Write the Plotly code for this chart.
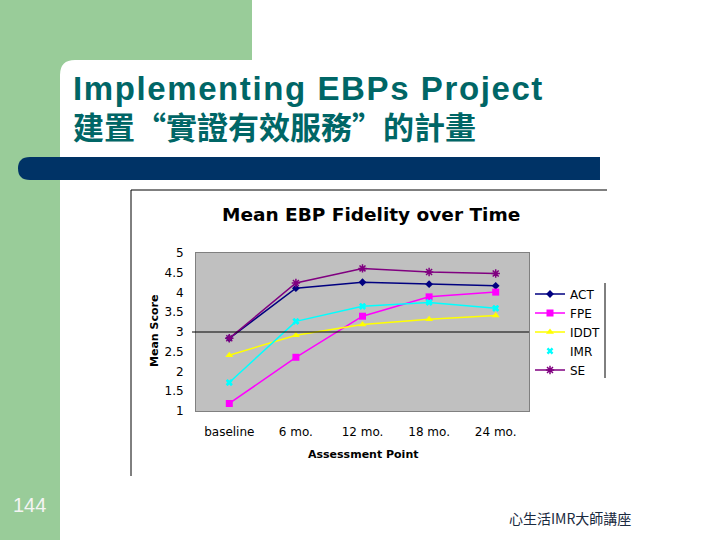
import plotly.graph_objects as go

categories = ["baseline", "6 mo.", "12 mo.", "18 mo.", "24 mo."]
act = [2.84, 4.11, 4.26, 4.21, 4.17]
fpe = [1.19, 2.36, 3.40, 3.89, 4.01]
iddt = [2.41, 2.92, 3.19, 3.32, 3.42]
imr = [1.72, 3.27, 3.65, 3.75, 3.60]
se = [2.84, 4.24, 4.61, 4.52, 4.48]
y_ticks = [1, 1.5, 2, 2.5, 3, 3.5, 4, 4.5, 5]
y_tick_labels = ["1", "1.5", "2", "2.5", "3", "3.5", "4", "4.5", "5"]

W, H = 720, 540


def px(x):
    return x / W


def py(y):
    return 1 - y / H


def path(cmds):
    out = []
    for c in cmds:
        if isinstance(c, str):
            out.append(c)
        else:
            out.append(f"{px(c[0]):.5f},{py(c[1]):.5f}")
    return " ".join(out)


CHART_FONT = "DejaVu Sans, Verdana, sans-serif"

fig = go.Figure()

series = [
    ("ACT", act, "#000080", "diamond", 6),
    ("FPE", fpe, "#FF00FF", "square", 7),
    ("IDDT", iddt, "#FFFF00", "triangle-up", 7),
    ("IMR", imr, "#00FFFF", "x", 6),
    ("SE", se, "#800080", "asterisk-open", 7),
]

for name, vals, color, sym, size in series:
    marker = dict(symbol=sym, size=size, color=color)
    if sym == "asterisk-open":
        marker["line"] = dict(color=color, width=1.5)
    else:
        marker["line"] = dict(width=0)
    if name == "IMR":
        fig.add_trace(go.Scatter(x=categories, y=vals, mode="lines+markers", name=name,
                                 line=dict(color=color, width=1.5), marker=marker,
                                 showlegend=False))
        fig.add_trace(go.Scatter(x=categories, y=vals, mode="markers", name=name,
                                 marker=marker, showlegend=True))
    else:
        fig.add_trace(go.Scatter(x=categories, y=vals, mode="lines+markers", name=name,
                                 line=dict(color=color, width=1.5), marker=marker))

shapes = [
    # green slide background
    dict(type="path", xref="paper", yref="paper", layer="below",
         path=path(["M", (0, 0), "L", (252, 0), "L", (252, 60), "L", (75, 60),
                    "Q", (60, 60), (60, 75), "L", (60, 540), "L", (0, 540), "Z"]),
         fillcolor="#99CC99", line=dict(width=0)),
    # blue bar
    dict(type="path", xref="paper", yref="paper", layer="below",
         path=path(["M", (30, 157), "L", (600, 157), "L", (600, 180), "L", (30, 180),
                    "Q", (18, 180), (18, 168.5), "Q", (18, 157), (30, 157), "Z"]),
         fillcolor="#003366", line=dict(width=0)),
    # chart frame lines
    dict(type="line", xref="paper", yref="paper", x0=px(131), x1=px(607), y0=py(190), y1=py(190),
         line=dict(color="black", width=1)),
    dict(type="line", xref="paper", yref="paper", x0=px(131), x1=px(131), y0=py(190), y1=py(476),
         line=dict(color="black", width=1)),
    dict(type="line", xref="paper", yref="paper", x0=px(605), x1=px(605), y0=py(283), y1=py(378),
         line=dict(color="black", width=1)),
    # category axis crossing at 3
    dict(type="line", xref="paper", yref="y", x0=px(192), x1=px(529), y0=3, y1=3,
         line=dict(color="black", width=1), layer="above"),
]

annotations = [
    dict(text='<span style="letter-spacing:1.6px"><b>Implementing EBPs Project</b></span>',
         x=px(71), y=py(88), xref="paper", yref="paper",
         xanchor="left", yanchor="middle", showarrow=False,
         font=dict(family="Liberation Sans, Arial, sans-serif", size=33, color="#006666")),
    dict(text="建置“實證有效服務”的計畫", x=px(71), y=py(125), xref="paper", yref="paper",
         xanchor="left", yanchor="middle", showarrow=False,
         font=dict(family="Noto Sans CJK TC, sans-serif", size=31, color="#006666", weight=700)),
    dict(text="144", x=px(29), y=py(505), xref="paper", yref="paper",
         xanchor="center", yanchor="middle", showarrow=False,
         font=dict(family="Liberation Sans, Arial, sans-serif", size=20, color="#F4F4F4")),
    dict(text="心生活IMR大師講座", x=px(570), y=py(518), xref="paper", yref="paper",
         xanchor="center", yanchor="middle", showarrow=False,
         font=dict(family="Noto Sans CJK TC, sans-serif", size=14, color="#1a2a40")),
    dict(text="<b>Mean EBP Fidelity over Time</b>", x=px(371), y=py(214), xref="paper", yref="paper",
         xanchor="center", yanchor="middle", showarrow=False,
         font=dict(family=CHART_FONT, size=18.5, color="black")),
    dict(text="<b>Mean Score</b>", x=px(154), y=py(331), xref="paper", yref="paper",
         xanchor="center", yanchor="middle", showarrow=False, textangle=-90,
         font=dict(family=CHART_FONT, size=11, color="black")),
    dict(text="<b>Assessment Point</b>", x=px(363), y=py(454), xref="paper", yref="paper",
         xanchor="center", yanchor="middle", showarrow=False,
         font=dict(family=CHART_FONT, size=11, color="black")),
]

fig.update_layout(
    width=W, height=H, autosize=False,
    margin=dict(l=0, r=0, t=0, b=0, pad=0),
    paper_bgcolor="white",
    plot_bgcolor="#C0C0C0",
    shapes=shapes,
    annotations=annotations,
    showlegend=True,
    legend=dict(x=px(530), y=py(279.5), xanchor="left", yanchor="top",
                bgcolor="rgba(0,0,0,0)", borderwidth=0,
                font=dict(family=CHART_FONT, size=12, color="black"),
                tracegroupgap=0, itemwidth=30),
    xaxis=dict(domain=[px(196), px(529)], range=[-0.5, 4.5], type="category",
               showgrid=False, zeroline=False, showline=True, linecolor="#808080", linewidth=1,
               mirror=True, ticks="", tickfont=dict(family=CHART_FONT, size=12, color="black"),
               ticklabelstandoff=10, fixedrange=True, automargin=False),
    yaxis=dict(domain=[py(411), py(253)], range=[1, 5], tickvals=y_ticks, ticktext=y_tick_labels,
               showgrid=False, zeroline=False, showline=True, linecolor="#808080", linewidth=1,
               mirror=True, ticks="", tickfont=dict(family=CHART_FONT, size=12, color="black"),
               ticklabelstandoff=9, fixedrange=True, automargin=False),
)

post = (
    "document.documentElement.style.margin='0';"
    "document.body.style.margin='0';document.body.style.padding='0';"
    "document.body.style.overflow='hidden';"
    "var d=document.getElementById('{plot_id}');"
    "d.style.position='fixed';d.style.left='0px';d.style.top='0px';"
)

fig.write_html("out.html", config={"displayModeBar": False}, post_script=post)
